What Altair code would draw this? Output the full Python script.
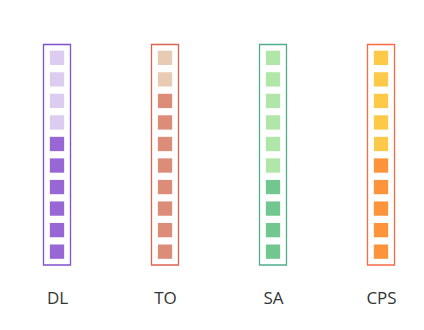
import altair as alt
import pandas as pd

categories = ["DL", "TO", "SA", "CPS"]
dark_counts = [6, 8, 4, 5]
total_units = [10, 10, 10, 10]
light_colors = ["#dccdf0", "#e9cbb4", "#b0e6a8", "#fcca48"]
dark_colors = ["#9966d6", "#dc8c79", "#72c690", "#fc943c"]
border_colors = ["#7f50d0", "#dc6352", "#4fae8a", "#f96a44"]

rows = []
for cat, dk, tot, lc, dc in zip(categories, dark_counts, total_units, light_colors, dark_colors):
    for i in range(tot):
        rows.append({"cat": cat, "idx": i, "color": dc if i < dk else lc})
units = pd.DataFrame(rows)
boxes = pd.DataFrame({"cat": categories, "lo": [-0.62] * 4, "hi": [9.62] * 4, "stroke": border_colors})

xenc = alt.X("cat:N", sort=categories,
             scale=alt.Scale(type="point", padding=0.25),
             axis=alt.Axis(title=None, domain=False, ticks=False, labelAngle=0,
                           labelPadding=25, labelFontSize=17, labelColor="#333333",
                           labelFont="Open Sans", grid=False))
yscale = alt.Scale(domain=[-0.62, 9.62], nice=False, zero=False)

squares = alt.Chart(units).mark_square(size=205, opacity=1).encode(
    x=xenc,
    y=alt.Y("idx:Q", scale=yscale, axis=None),
    color=alt.Color("color:N", scale=None),
)

border = alt.Chart(boxes).mark_bar(size=27, fill=None, strokeWidth=1.3, fillOpacity=0).encode(
    x=xenc,
    y=alt.Y("lo:Q", scale=yscale, axis=None),
    y2="hi:Q",
    stroke=alt.Stroke("stroke:N", scale=None),
)

chart = alt.layer(border, squares).properties(
    width=378, height=220.5,
    padding={"left": 30, "top": 43.5, "right": 10, "bottom": 12},
    background="white",
).configure_view(stroke=None)

chart.save("out.html", embed_options={"renderer": "svg", "actions": False})
